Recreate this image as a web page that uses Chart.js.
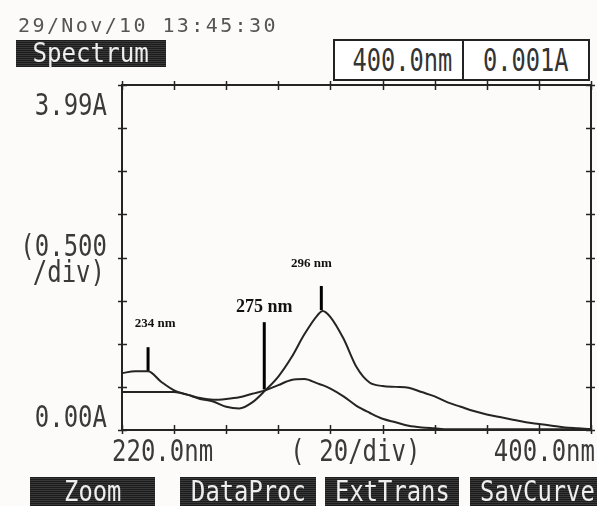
<!DOCTYPE html>
<html>
<head>
<meta charset="utf-8">
<script src="https://cdn.jsdelivr.net/npm/chart.js@4.4.0/dist/chart.umd.min.js"></script>
<style>
  html, body { margin: 0; padding: 0; background: #fdfbfa; }
  #wrap { position: relative; width: 597px; height: 506px; overflow: hidden; background: #fdfbfa; }
  #chart { position: absolute; left: 0; top: 0; }
  .dot { position: absolute; font-family: 'DejaVu Sans Mono', monospace; white-space: pre; line-height: 1; box-sizing: border-box; }
  .dot span { display: inline-block; transform-origin: center; }
  .stamp { left: 18px; top: 15px; font-size: 20px; letter-spacing: 2.4px; color: #555; }
  .inv { background: #262626 repeating-linear-gradient(0deg, #1c1c1c 0 1px, #383838 1px 2px); color: #eee; text-align: center; }
  .cell { border: 2px solid #222; background: #fff; color: #333; text-align: center; }
</style>
</head>
<body>
<div id="wrap">
  <canvas id="chart" width="597" height="506"></canvas>
  <div class="dot stamp">29/Nov/10 13:45:30</div>
  <div class="dot inv" style="left:16px;top:40px;width:150px;height:27px;font-size:26px;line-height:27px;"><span style="transform:scaleX(0.93)">Spectrum</span></div>
  <div class="dot cell" style="left:333px;top:39px;width:131px;height:42px;font-size:32px;line-height:38px;"><span style="transform:scaleX(0.74)">400.0nm</span></div>
  <div class="dot cell" style="left:462px;top:39px;width:128px;height:42px;font-size:32px;line-height:38px;"><span style="transform:scaleX(0.74)">0.001A</span></div>
  <div class="dot inv" style="left:30px;top:477px;width:125px;height:29px;font-size:28px;line-height:29px;"><span style="transform:scaleX(0.85)">Zoom</span></div>
  <div class="dot inv" style="left:180px;top:477px;width:136px;height:29px;font-size:28px;line-height:29px;"><span style="transform:scaleX(0.85)">DataProc</span></div>
  <div class="dot inv" style="left:325px;top:477px;width:134px;height:29px;font-size:28px;line-height:29px;"><span style="transform:scaleX(0.85)">ExtTrans</span></div>
  <div class="dot inv" style="left:470px;top:477px;width:127px;height:29px;font-size:28px;line-height:29px;"><span style="transform:scaleX(0.85)">SavCurve</span></div>
</div>
<script>
// wavelength grid (nm) and absorbance
const wavelengths = [220, 225, 230, 235, 240, 245, 250, 255, 260, 265, 270, 275, 280, 285, 290, 295, 297, 300, 305, 310, 315, 320, 325, 330, 335, 340, 345, 350, 355, 360, 365, 370, 375, 380, 385, 390, 395, 400];
const sampleAbs = [0.66, 0.68, 0.68, 0.56, 0.46, 0.41, 0.36, 0.33, 0.27, 0.25, 0.32, 0.46, 0.62, 0.84, 1.11, 1.33, 1.38, 1.31, 1.06, 0.73, 0.55, 0.51, 0.50, 0.49, 0.44, 0.39, 0.32, 0.27, 0.22, 0.18, 0.15, 0.12, 0.09, 0.07, 0.05, 0.03, 0.02, 0.01];
const secondAbs = [0.44, 0.44, 0.44, 0.44, 0.44, 0.41, 0.37, 0.35, 0.36, 0.38, 0.42, 0.46, 0.52, 0.58, 0.59, 0.54, 0.52, 0.48, 0.39, 0.28, 0.20, 0.13, 0.09, 0.05, 0.03, 0.02, 0.01, 0.01, 0.01, 0.01, 0.01, 0.01, 0.01, 0.01, 0.01, 0.01, 0.01, 0.01];

// peak markers: wavelength, bottom and top of the marker stroke (A)
const peakLabels = ['234 nm', '275 nm', '296 nm'];
const peakNm = [230, 274.6, 296.5];
const peakLow = [0.68, 0.47, 1.39];
const peakHigh = [0.96, 1.25, 1.67];

// axes
const xTicks = [220, 240, 260, 280, 300, 320, 340, 360, 380, 400];
const yTicks = [0, 0.5, 1, 1.5, 2, 2.5, 3, 3.5, 4];
const yTickLabels = ['3.99A', '(0.500', '/div)', '0.00A'];
const xTickLabels = ['220.0nm', '( 20/div)', '400.0nm'];

const ink = '#242424';
const dotFont = "30px 'DejaVu Sans Mono', monospace";

function dotText(ctx, text, px, py, align, sx) {
  ctx.save();
  ctx.translate(px, py);
  ctx.scale(sx, 1);
  ctx.textAlign = align;
  ctx.fillText(text, 0, 0);
  ctx.restore();
}

const printout = {
  id: 'printout',
  afterDatasetsDraw(chart) {
    const { ctx, chartArea: a, scales: { x, y } } = chart;
    ctx.save();
    ctx.strokeStyle = ink;
    ctx.lineWidth = 2;
    ctx.strokeRect(a.left, a.top, a.right - a.left, a.bottom - a.top);

    // tick crosses on all four sides
    ctx.lineWidth = 1.5;
    ctx.beginPath();
    xTicks.forEach(v => {
      const px = Math.round(x.getPixelForValue(v)) + 0.5;
      ctx.moveTo(px, a.top - 4); ctx.lineTo(px, a.top + 5);
      ctx.moveTo(px, a.bottom - 5); ctx.lineTo(px, a.bottom + 4);
    });
    yTicks.forEach(v => {
      const py = Math.round(y.getPixelForValue(v)) + 0.5;
      ctx.moveTo(a.left - 4, py); ctx.lineTo(a.left + 5, py);
      ctx.moveTo(a.right - 5, py); ctx.lineTo(a.right + 4, py);
    });
    ctx.stroke();

    // axis captions
    ctx.fillStyle = '#3a3a3a';
    ctx.font = dotFont;
    ctx.textBaseline = 'alphabetic';
    const lx = a.left - 15;
    dotText(ctx, yTickLabels[0], lx, y.getPixelForValue(4) + 30, 'right', 0.8);
    dotText(ctx, yTickLabels[1], lx, y.getPixelForValue(2) - 2, 'right', 0.8);
    dotText(ctx, yTickLabels[2], lx - 2, y.getPixelForValue(2) + 24, 'right', 0.8);
    dotText(ctx, yTickLabels[3], lx, y.getPixelForValue(0) - 3, 'right', 0.8);
    const by = a.bottom + 31;
    dotText(ctx, xTickLabels[0], x.getPixelForValue(220) - 10, by, 'left', 0.8);
    dotText(ctx, xTickLabels[1], x.getPixelForValue(280) + 12, by, 'left', 0.8);
    dotText(ctx, xTickLabels[2], x.getPixelForValue(400) + 4, by, 'right', 0.8);

    // pasted-on peak annotations
    const fonts = ['bold 13px "Liberation Serif"', 'bold 18px "Liberation Serif"', 'bold 13px "Liberation Serif"'];
    const dx = [7, 0, -10];
    const dy = [20, 10, 19];
    ctx.fillStyle = '#111';
    ctx.textAlign = 'center';
    peakLabels.forEach((t, i) => {
      ctx.font = fonts[i];
      ctx.fillText(t, x.getPixelForValue(peakNm[i]) + dx[i], y.getPixelForValue(peakHigh[i]) - dy[i]);
    });
    ctx.restore();
  }
};

const traces = [
  { data: wavelengths.map((w, i) => ({ x: w, y: sampleAbs[i] })), borderColor: ink, borderWidth: 2, pointRadius: 0, cubicInterpolationMode: 'monotone' },
  { data: wavelengths.map((w, i) => ({ x: w, y: secondAbs[i] })), borderColor: ink, borderWidth: 2, pointRadius: 0, cubicInterpolationMode: 'monotone' }
];
const markers = peakNm.map((nm, i) => ({
  data: [{ x: nm, y: peakLow[i] }, { x: nm, y: peakHigh[i] }],
  borderColor: '#000', borderWidth: 3, pointRadius: 0, borderCapStyle: 'butt'
}));

new Chart(document.getElementById('chart'), {
  type: 'line',
  data: { datasets: traces.concat(markers) },
  options: {
    responsive: false,
    devicePixelRatio: 1,
    animation: false,
    layout: { padding: { left: 122, top: 85, right: 6, bottom: 76 } },
    plugins: { legend: { display: false }, tooltip: { enabled: false } },
    scales: {
      x: { type: 'linear', min: 220, max: 400, display: false },
      y: { type: 'linear', min: 0, max: 4, display: false }
    }
  },
  plugins: [printout]
});
</script>
</body>
</html>
